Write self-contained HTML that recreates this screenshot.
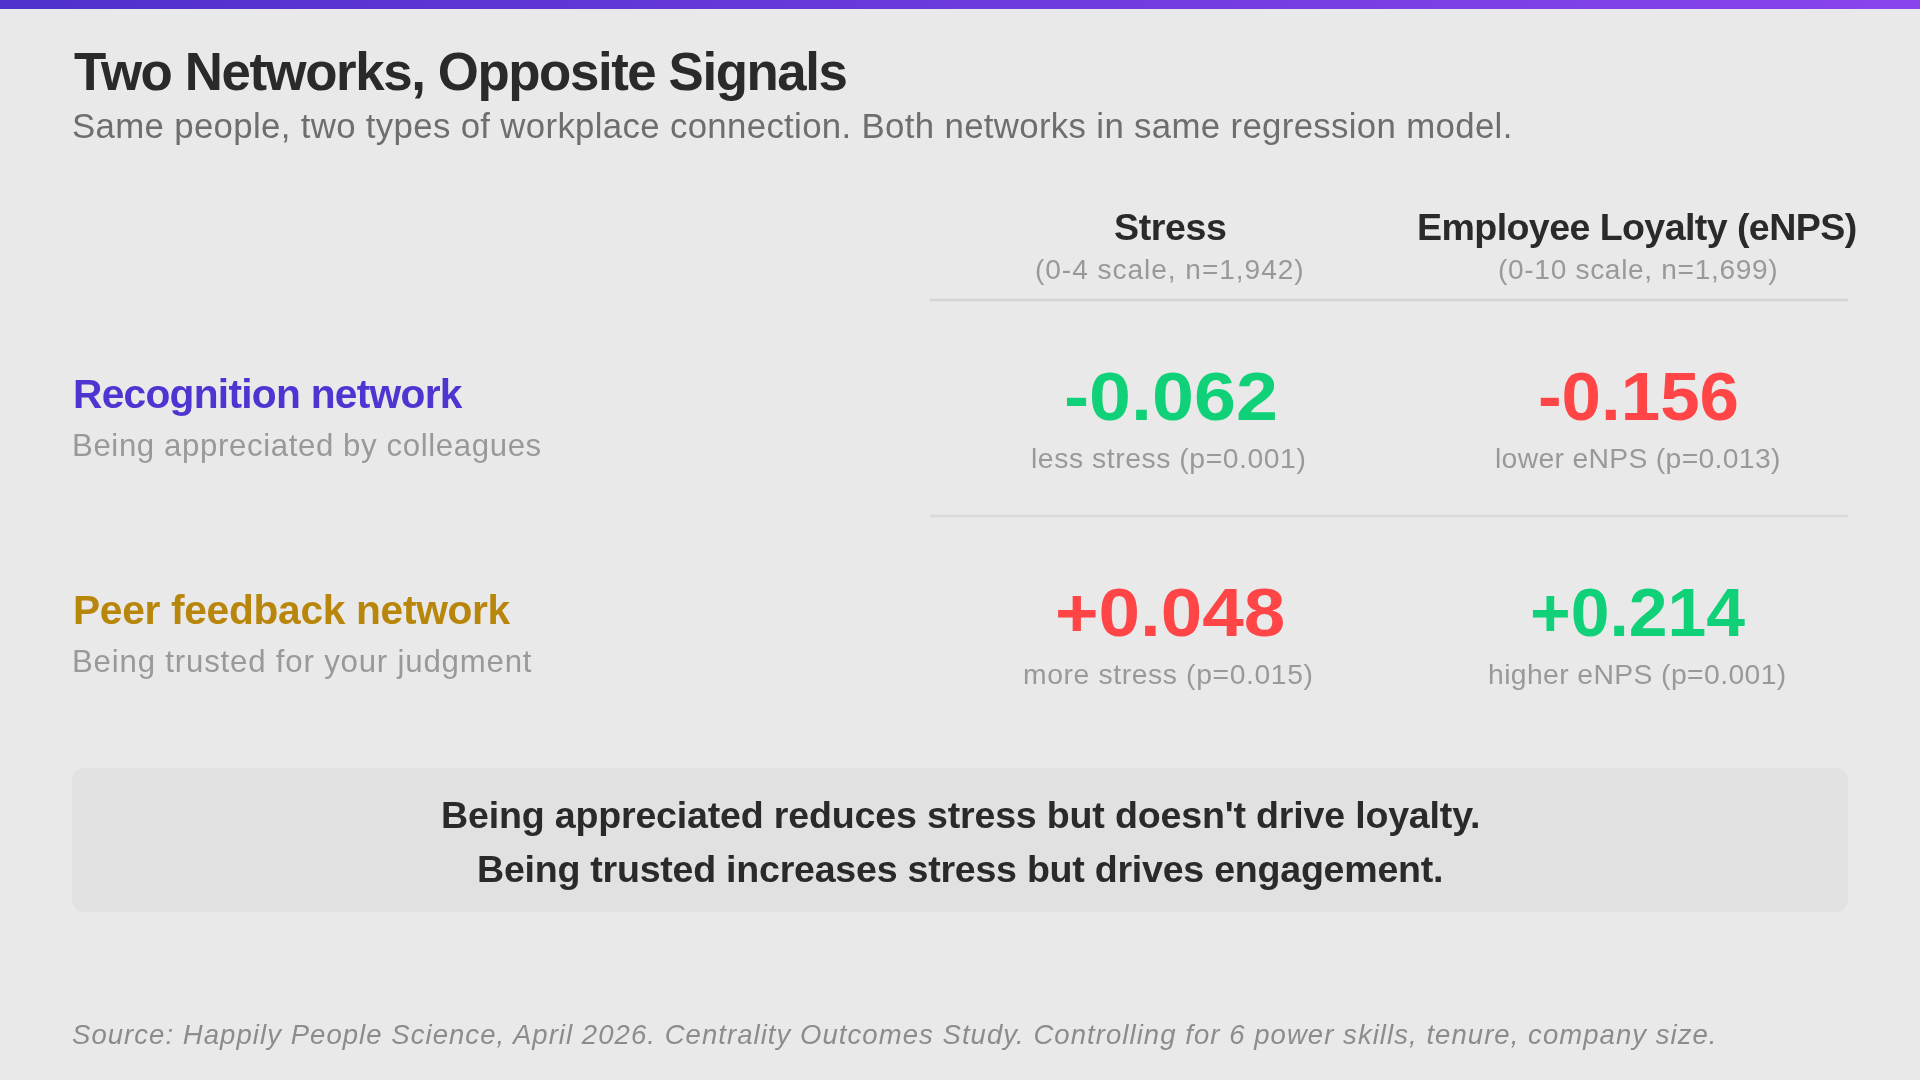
<!DOCTYPE html>
<html><head><meta charset="utf-8"><title>Two Networks, Opposite Signals</title>
<style>
html,body{margin:0;padding:0;}
body{width:1920px;height:1080px;position:relative;overflow:hidden;background:#e9e9e9;font-family:"Liberation Sans",sans-serif;}
.bar{position:absolute;left:0;top:0;width:1920px;height:9px;background:linear-gradient(90deg,#4f30cc,#8944ee);}
.t{position:absolute;white-space:nowrap;margin:0;will-change:transform;}
.rule{position:absolute;left:930px;width:918px;height:2px;background:#d6d6d6;}
.box{position:absolute;left:72px;top:768px;width:1776px;height:144px;border-radius:12px;background:#e1e1e1;}
</style></head><body>
<div class="bar"></div>
<div class="rule" style="top:299px;background:#d5d5d5;box-shadow:0 1px 0 #e2e2e2,0 -1px 0 #e4e4e4"></div>
<div class="rule" style="top:515px;background:#dadada;box-shadow:0 1px 0 #e3e3e3,0 -1px 0 #e4e4e4"></div>
<div class="box"></div>

<div class="t" style="left:74.00px;top:45.90px;font-size:52.80px;line-height:52.80px;font-weight:700;color:#2a2a2a;letter-spacing:-1.400px;">Two Networks, Opposite Signals</div>
<div class="t" style="left:71.50px;top:108.84px;font-size:34.80px;line-height:34.80px;font-weight:400;color:#6e6e6e;letter-spacing:0.330px;">Same people, two types of workplace connection. Both networks in same regression model.</div>
<div class="t" style="left:1113.50px;top:208.97px;font-size:37.60px;line-height:37.60px;font-weight:700;color:#2a2a2a;letter-spacing:-0.400px;">Stress</div>
<div class="t" style="left:1417.00px;top:208.97px;font-size:37.60px;line-height:37.60px;font-weight:700;color:#2a2a2a;letter-spacing:-0.591px;">Employee Loyalty (eNPS)</div>
<div class="t" style="left:1035.00px;top:255.81px;font-size:28.10px;line-height:28.10px;font-weight:400;color:#999999;letter-spacing:0.947px;">(0-4 scale, n=1,942)</div>
<div class="t" style="left:1497.50px;top:255.81px;font-size:28.10px;line-height:28.10px;font-weight:400;color:#999999;letter-spacing:0.670px;">(0-10 scale, n=1,699)</div>
<div class="t" style="left:73.10px;top:373.55px;font-size:40.70px;line-height:40.70px;font-weight:700;color:#4c35d0;letter-spacing:-0.722px;">Recognition network</div>
<div class="t" style="left:72.20px;top:430.19px;font-size:31.20px;line-height:31.20px;font-weight:400;color:#999999;letter-spacing:0.613px;">Being appreciated by colleagues</div>
<div class="t" style="left:1064.10px;top:361.79px;font-size:69.00px;line-height:69.00px;font-weight:700;color:#10d078;letter-spacing:0.000px;transform:scaleX(1.0932);transform-origin:0 0;">-0.062</div>
<div class="t" style="left:1030.90px;top:444.14px;font-size:28.30px;line-height:28.30px;font-weight:400;color:#999999;letter-spacing:0.570px;">less stress (p=0.001)</div>
<div class="t" style="left:1538.40px;top:361.79px;font-size:69.00px;line-height:69.00px;font-weight:700;color:#ff4545;letter-spacing:0.000px;transform:scaleX(1.0273);transform-origin:0 0;">-0.156</div>
<div class="t" style="left:1494.60px;top:444.14px;font-size:28.30px;line-height:28.30px;font-weight:400;color:#999999;letter-spacing:0.326px;">lower eNPS (p=0.013)</div>
<div class="t" style="left:73.30px;top:589.55px;font-size:40.70px;line-height:40.70px;font-weight:700;color:#b8860b;letter-spacing:-0.300px;">Peer feedback network</div>
<div class="t" style="left:71.90px;top:645.69px;font-size:31.20px;line-height:31.20px;font-weight:400;color:#999999;letter-spacing:0.813px;">Being trusted for your judgment</div>
<div class="t" style="left:1054.90px;top:577.79px;font-size:69.00px;line-height:69.00px;font-weight:700;color:#ff4545;letter-spacing:0.000px;transform:scaleX(1.0817);transform-origin:0 0;">+0.048</div>
<div class="t" style="left:1023.40px;top:660.34px;font-size:28.30px;line-height:28.30px;font-weight:400;color:#999999;letter-spacing:0.620px;">more stress (p=0.015)</div>
<div class="t" style="left:1530.00px;top:577.79px;font-size:69.00px;line-height:69.00px;font-weight:700;color:#10d078;letter-spacing:0.000px;transform:scaleX(1.0095);transform-origin:0 0;">+0.214</div>
<div class="t" style="left:1488.10px;top:660.34px;font-size:28.30px;line-height:28.30px;font-weight:400;color:#999999;letter-spacing:0.400px;">higher eNPS (p=0.001)</div>
<div class="t" style="left:440.60px;top:796.67px;font-size:37.60px;line-height:37.60px;font-weight:700;color:#2a2a2a;letter-spacing:-0.186px;">Being appreciated reduces stress but doesn't drive loyalty.</div>
<div class="t" style="left:476.80px;top:850.77px;font-size:37.60px;line-height:37.60px;font-weight:700;color:#2a2a2a;letter-spacing:-0.250px;">Being trusted increases stress but drives engagement.</div>
<div class="t" style="left:71.70px;top:1020.62px;font-size:27.50px;line-height:27.50px;font-weight:400;color:#8c8c8c;letter-spacing:1.055px;font-style:italic;">Source: Happily People Science, April 2026. Centrality Outcomes Study. Controlling for 6 power skills, tenure, company size.</div>
</body></html>
